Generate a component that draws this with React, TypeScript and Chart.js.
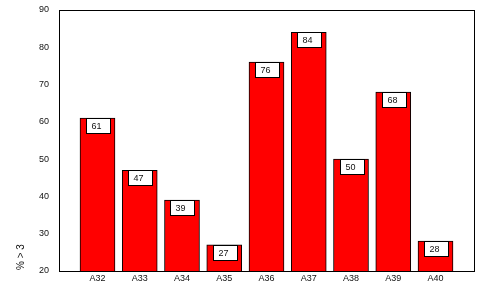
import React, { useEffect, useRef } from "react";
import { Chart, registerables } from "chart.js";

Chart.register(...registerables);

const categories = ["A32", "A33", "A34", "A35", "A36", "A37", "A38", "A39", "A40"];
const values = [61, 47, 39, 27, 76, 84, 50, 68, 28];
const yMin = 20;
const yMax = 90;
const yStep = 10;
const yTitle = "% > 3";

const FONT = "Arial, 'Liberation Sans', sans-serif";

const framePlugin = {
  id: "frame",
  afterDraw(chart: any) {
    const { ctx, chartArea } = chart;
    ctx.save();
    ctx.strokeStyle = "#000";
    ctx.lineWidth = 1;
    ctx.strokeRect(
      Math.round(chartArea.left) + 0.5,
      Math.round(chartArea.top) + 0.5,
      Math.round(chartArea.right - chartArea.left),
      Math.round(chartArea.bottom - chartArea.top)
    );
    // y title
    ctx.translate(21, 270);
    ctx.rotate(-Math.PI / 2);
    ctx.fillStyle = "#111";
    ctx.font = `10px ${FONT}`;
    ctx.textAlign = "left";
    ctx.textBaseline = "middle";
    ctx.fillText(yTitle, 0, 0);
    ctx.restore();
  },
};

const labelPlugin = {
  id: "barLabels",
  afterDatasetsDraw(chart: any) {
    const { ctx } = chart;
    const meta = chart.getDatasetMeta(0);
    ctx.save();
    ctx.font = `9px ${FONT}`;
    ctx.textBaseline = "middle";
    ctx.textAlign = "left";
    meta.data.forEach((bar: any, i: number) => {
      const bx = Math.round(bar.x - 11.5) + 0.5;
      const by = Math.round(bar.y) + 0.5;
      ctx.fillStyle = "#fff";
      ctx.fillRect(bx, by, 24, 15);
      ctx.strokeStyle = "#000";
      ctx.lineWidth = 1;
      ctx.strokeRect(bx, by, 24, 15);
      ctx.fillStyle = "#111";
      ctx.fillText(String(values[i]), bx + 5, by + 8);
    });
    ctx.restore();
  },
};

export default function App() {
  const ref = useRef<HTMLCanvasElement>(null);
  useEffect(() => {
    document.body.style.margin = "0";
    const chart = new Chart(ref.current!, {
      type: "bar",
      data: {
        datasets: [
          {
            data: values.map((v, i) => ({ x: i, y: v })),
            backgroundColor: "#ff0000",
            borderColor: "#000",
            borderWidth: 1,
            barThickness: 35,
          },
        ],
      },
      options: {
        animation: false,
        responsive: false,
        maintainAspectRatio: false,
        layout: { padding: { top: 10, right: 13, left: 0, bottom: 0 } },
        plugins: {
          legend: { display: false },
          tooltip: { enabled: false },
        },
        scales: {
          x: {
            type: "linear",
            offset: false,
            min: -0.911,
            max: 8.911,
            grid: { display: false, drawTicks: false, offset: false },
            border: { display: false },
            afterBuildTicks: (scale: any) => {
              scale.ticks = categories.map((_, i) => ({ value: i }));
            },
            afterFit: (scale: any) => {
              scale.height = 16;
              scale.paddingLeft = 0;
              scale.paddingRight = 0;
            },
            ticks: {
              autoSkip: false,
              maxRotation: 0,
              padding: 2,
              color: "#111",
              font: { family: FONT, size: 9 },
              callback: (v: any) => categories[Math.round(Number(v))] ?? "",
            },
          },
          y: {
            min: yMin,
            max: yMax,
            grid: { display: false, drawTicks: false },
            border: { display: false },
            afterFit: (scale: any) => {
              scale.width = 59;
              scale.paddingTop = 0;
              scale.paddingBottom = 0;
            },
            ticks: {
              stepSize: yStep,
              padding: 10,
              color: "#111",
              font: { family: FONT, size: 9 },
            },
          },
        },
      },
      plugins: [framePlugin, labelPlugin],
    } as any);
    return () => chart.destroy();
  }, []);
  return (
    <div style={{ width: 487, height: 287 }}>
      <canvas ref={ref} width={487} height={287} style={{ display: "block" }} />
    </div>
  );
}
